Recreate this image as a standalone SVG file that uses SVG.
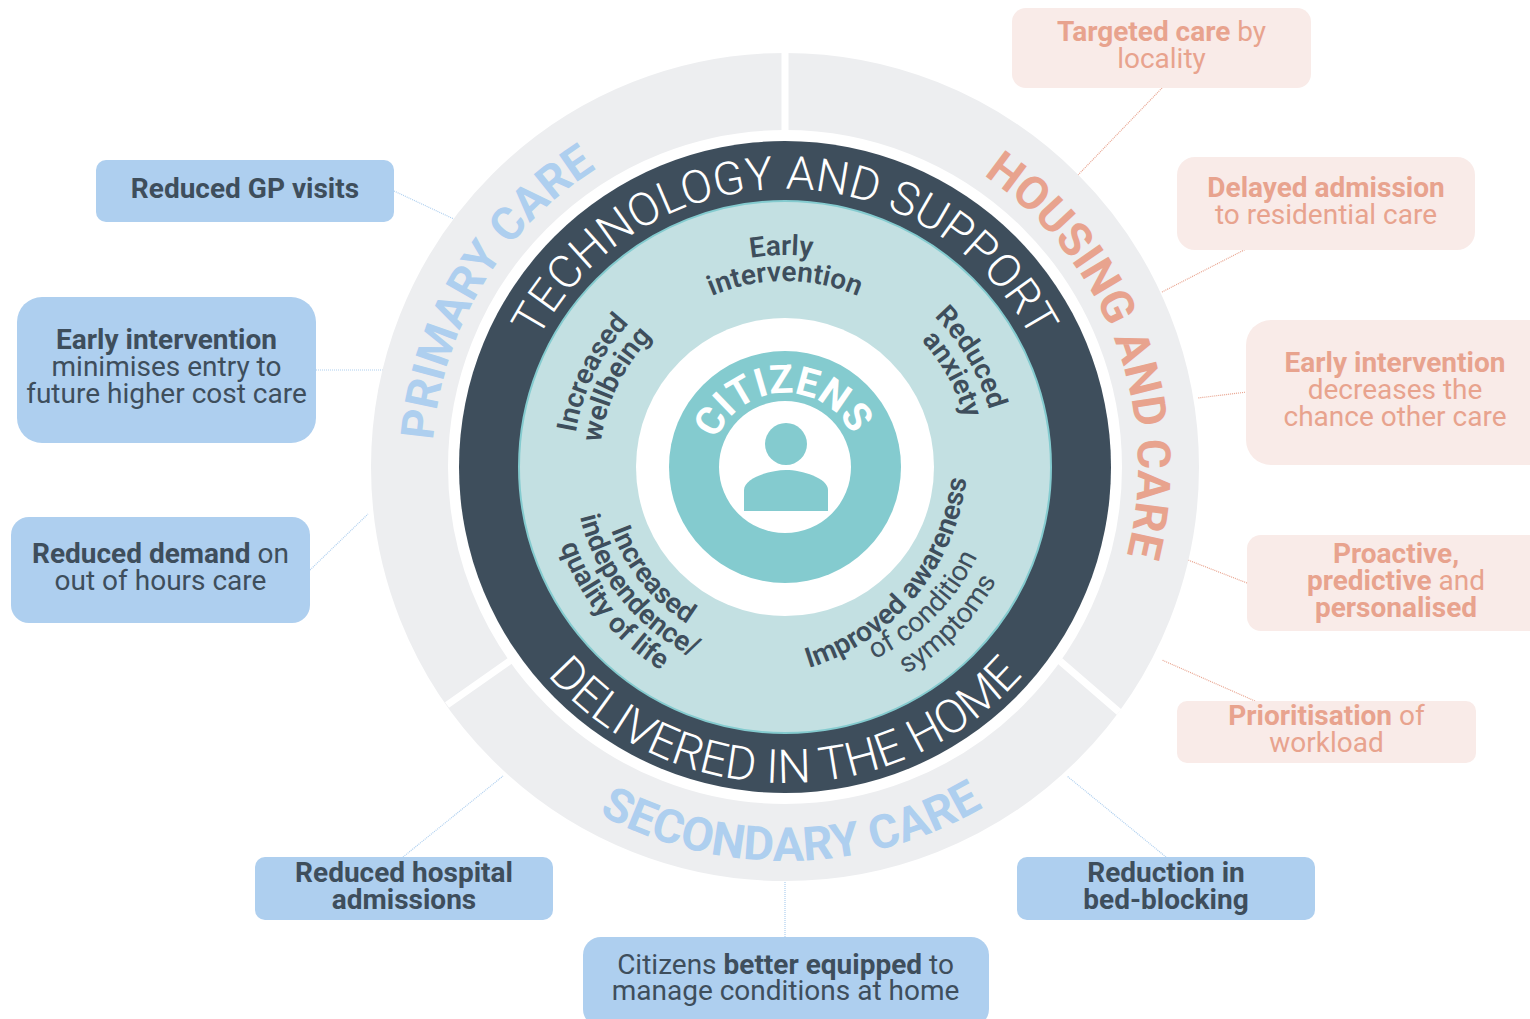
<svg xmlns="http://www.w3.org/2000/svg" width="1530" height="1019" viewBox="0 0 1530 1019">
<style>
text{font-family:Roboto,"Liberation Sans",sans-serif}
.t{font-size:28px;text-anchor:middle;fill:#3e4e5c}
.p{fill:#e8a38e}
.b{font-weight:700}
.bx{fill:#aecfef}.px{fill:#f9ebe8}
.lb{stroke:#aecfef;stroke-width:1.200;stroke-dasharray:1 1;fill:none}
.lp{stroke:#e8a38e;stroke-width:1.200;stroke-dasharray:1 1;fill:none}
.c{font-size:28px;text-anchor:middle;fill:#3e4e5c;font-weight:600}
.big{font-size:46px;text-anchor:middle}
</style>
<defs>
<path id="t74" d="M711 467A74 74 0 0 1 859 467"/>
<path id="t186" d="M599 467A186 186 0 0 1 971 467"/>
<path id="t212" d="M573 467A212 212 0 0 1 997 467"/>
<path id="t278" d="M507 467A278 278 0 0 1 1063 467"/>
<path id="t353" d="M432 467A353 353 0 0 1 1138 467"/>
<path id="b185" d="M600 467A185 185 0 0 0 970 467"/>
<path id="b211" d="M574 467A211 211 0 0 0 996 467"/>
<path id="b212" d="M573 467A212 212 0 0 0 997 467"/>
<path id="b238" d="M547 467A238 238 0 0 0 1023 467"/>
<path id="b240" d="M545 467A240 240 0 0 0 1025 467"/>
<path id="b316" d="M469 467A316 316 0 0 0 1101 467"/>
<path id="b394" d="M391 467A394 394 0 0 0 1179 467"/>
<path id="imp" d="M805 669A225 225 0 0 0 966 482A225 225 0 0 0 975 440"/>
</defs>
<rect width="1530" height="1019" fill="#fff"/>
<g id="connectors">
<path class="lb" d="M394 191L456 220M316 370H385M310 570L368 514M403 857L503 776M785 882V937M1166 857L1067 776"/>
<path class="lp" d="M1162 88L1078 175M1250 247L1162 292M1247 392L1198 398M1247 583L1188 560M1255 701L1162 660"/>
</g>
<g id="rings">
<circle cx="785" cy="467" r="375.500" fill="none" stroke="#edeef0" stroke-width="77"/>
<path d="M785 50V131M447 705L511 660M1060 661L1119 712" stroke="#fff" stroke-width="7" fill="none"/>
<circle cx="785" cy="467" r="326" fill="#3e4e5c"/>
<circle cx="785" cy="467" r="266" fill="#c3e0e2" stroke="#84cbcf" stroke-width="2"/>
<circle cx="785" cy="467" r="149" fill="#fff"/>
<circle cx="785" cy="467" r="116" fill="#84cbcf"/>
<circle cx="785" cy="467" r="66" fill="#fff"/>
<circle cx="786" cy="444" r="21" fill="#84cbcf"/>
<path d="M744 511V490C744 478 770 470 786 470C802 470 828 478 828 490V511Z" fill="#84cbcf"/>
</g>
<g id="ring-labels">
<text class="big" fill="#fff" font-weight="300"><textPath href="#t278" startOffset="50%">TECHNOLOGY AND SUPPORT</textPath></text>
<text class="big" fill="#fff" font-weight="300" style="font-size:47px"><textPath href="#b316" startOffset="50%">DELIVERED IN THE HOME</textPath></text>
<text class="big" fill="#aecfef" font-weight="700" transform="rotate(-59 785 467)"><textPath href="#t353" startOffset="50%">PRIMARY CARE</textPath></text>
<text class="big" fill="#e8a38e" font-weight="700" transform="rotate(69.300 785 467)"><textPath href="#t353" startOffset="50%">HOUSING AND CARE</textPath></text>
<text class="big" fill="#aecfef" font-weight="700" style="font-size:47px" transform="rotate(-1 785 467)"><textPath href="#b394" startOffset="50%">SECONDARY CARE</textPath></text>
<text class="big" fill="#fff" font-weight="700" style="font-size:39.500px" transform="rotate(-2 785 467)"><textPath href="#t74" startOffset="50%">CITIZENS</textPath></text>
</g>
<g id="benefits">
<text class="c" transform="rotate(-1 785 467)"><textPath href="#t212" startOffset="50%">Early</textPath></text>
<text class="c"><textPath href="#t186" startOffset="50%">intervention</textPath></text>
<text class="c" transform="rotate(-64 785 467)"><textPath href="#t212" startOffset="50%">Increased</textPath></text>
<text class="c" transform="rotate(-64 785 467)"><textPath href="#t186" startOffset="50%">wellbeing</textPath></text>
<text class="c" transform="rotate(59.500 785 467)"><textPath href="#t212" startOffset="50%">Reduced</textPath></text>
<text class="c" transform="rotate(61 785 467)"><textPath href="#t186" startOffset="50%">anxiety</textPath></text>
<text class="c" transform="rotate(51 785 467)"><textPath href="#b185" startOffset="50%">Increased</textPath></text>
<text class="c" transform="rotate(51 785 467)"><textPath href="#b211" startOffset="50%">independence/</textPath></text>
<text class="c" transform="rotate(51 785 467)"><textPath href="#b238" startOffset="50%">quality of life</textPath></text>
<text class="c" style="text-anchor:start"><textPath href="#imp" startOffset="4">Improved awareness</textPath></text>
<text class="c" style="font-weight:400" transform="rotate(-45 785 467)"><textPath href="#b212" startOffset="50%">of condition</textPath></text>
<text class="c" style="font-weight:400" transform="rotate(-46 785 467)"><textPath href="#b240" startOffset="50%">symptoms</textPath></text>
</g>
<g id="n1"><rect class="bx" x="96" y="160" width="298" height="62" rx="10"/><text class="t" x="245" y="198"><tspan class="b">Reduced GP visits</tspan></text></g>
<g id="n2"><rect class="bx" x="17" y="297" width="299" height="146" rx="25"/><text class="t" x="166.500" y="349"><tspan class="b">Early intervention</tspan><tspan x="166.500" dy="27">minimises entry to</tspan><tspan x="166.500" dy="27">future higher cost care</tspan></text></g>
<g id="n3"><rect class="bx" x="11" y="517" width="299" height="106" rx="18"/><text class="t" x="160.500" y="563"><tspan class="b">Reduced demand</tspan> on<tspan x="160.500" dy="27">out of hours care</tspan></text></g>
<g id="n4"><rect class="bx" x="255" y="857" width="298" height="63" rx="10"/><text class="t" x="404" y="882"><tspan class="b">Reduced hospital</tspan><tspan class="b" x="404" dy="27">admissions</tspan></text></g>
<g id="n5"><rect class="bx" x="583" y="937" width="406" height="90" rx="18"/><text class="t" x="785.500" y="974">Citizens <tspan class="b">better equipped</tspan> to<tspan x="785.500" dy="26">manage conditions at home</tspan></text></g>
<g id="n6"><rect class="bx" x="1017" y="857" width="298" height="63" rx="10"/><text class="t" x="1166" y="882"><tspan class="b">Reduction in</tspan><tspan class="b" x="1166" dy="27">bed-blocking</tspan></text></g>
<g id="n7"><rect class="px" x="1012" y="8" width="299" height="80" rx="14"/><text class="t p" x="1161.500" y="41"><tspan class="b">Targeted care</tspan> by<tspan x="1161.500" dy="27">locality</tspan></text></g>
<g id="n8"><rect class="px" x="1177" y="157" width="298" height="93" rx="18"/><text class="t p" x="1326" y="197"><tspan class="b">Delayed admission</tspan><tspan x="1326" dy="27">to residential care</tspan></text></g>
<g id="n9"><rect class="px" x="1246" y="320" width="320" height="145" rx="25"/><text class="t p" x="1395" y="372"><tspan class="b">Early intervention</tspan><tspan x="1395" dy="27">decreases the</tspan><tspan x="1395" dy="27">chance other care</tspan></text></g>
<g id="n10"><rect class="px" x="1247" y="535" width="320" height="96" rx="14"/><text class="t p" x="1396" y="563"><tspan class="b">Proactive,</tspan><tspan x="1396" dy="27"><tspan class="b">predictive</tspan> and</tspan><tspan class="b" x="1396" dy="27">personalised</tspan></text></g>
<g id="n11"><rect class="px" x="1177" y="701" width="299" height="62" rx="10"/><text class="t p" x="1326.500" y="725"><tspan class="b">Prioritisation</tspan> of<tspan x="1326.500" dy="27">workload</tspan></text></g>
</svg>
